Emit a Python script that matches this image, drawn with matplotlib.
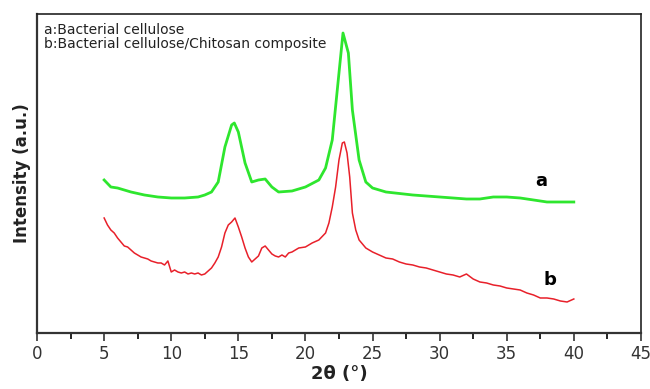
import matplotlib.pyplot as plt
import numpy as np

# curve a: bacterial cellulose (heights, a.u.)
two_theta_a = [5.0, 5.5, 6.0, 7.0, 8.0, 9.0, 10.0, 11.0, 12.0, 12.5, 13.0, 13.5,
               14.0, 14.5, 14.7, 15.0, 15.5, 16.0, 16.5, 17.0, 17.5, 18.0, 19.0,
               20.0, 21.0, 21.5, 22.0, 22.5, 22.8, 23.2, 23.5, 24.0, 24.5, 25.0,
               26.0, 28.0, 30.0, 32.0, 33.0, 34.0, 35.0, 36.0, 37.0, 38.0, 40.0]
intensity_a = [153, 146, 145, 141, 138, 136, 135, 135, 136, 138, 141, 151,
               186, 208, 210, 201, 170, 151, 153, 154, 146, 141, 142,
               146, 153, 165, 193, 260, 300, 280, 223, 173, 151, 145,
               141, 138, 136, 134, 134, 136, 136, 135, 133, 131, 131]

# curve b: bacterial cellulose / chitosan composite
two_theta_b = [5.0, 5.25, 5.5, 5.75, 6.0, 6.25, 6.5, 6.75, 7.0, 7.25, 7.5, 7.75,
               8.0, 8.25, 8.5, 8.75, 9.0, 9.25, 9.5, 9.75, 10.0, 10.25, 10.5, 10.75,
               11.0, 11.25, 11.5, 11.75, 12.0, 12.25, 12.5, 12.75, 13.0, 13.25, 13.5,
               13.75, 14.0, 14.25, 14.5, 14.75, 15.0, 15.25, 15.5, 15.75, 16.0, 16.25,
               16.5, 16.75, 17.0, 17.25, 17.5, 17.75, 18.0, 18.25, 18.5, 18.75, 19.0,
               19.5, 20.0, 20.5, 21.0, 21.5, 21.75, 22.0, 22.25, 22.5, 22.75, 22.9,
               23.1, 23.3, 23.5, 23.75, 24.0, 24.5, 25.0, 25.5, 26.0, 26.5, 27.0,
               27.5, 28.0, 28.5, 29.0, 29.5, 30.0, 30.5, 31.0, 31.5, 32.0, 32.5,
               33.0, 33.5, 34.0, 34.5, 35.0, 35.5, 36.0, 36.5, 37.0, 37.5, 38.0,
               38.5, 39.0, 39.5, 40.0]
intensity_b = [115, 108, 103, 100, 95, 91, 87, 86, 83, 80, 78, 76,
               75, 74, 72, 71, 70, 70, 68, 72, 61, 63, 61, 60,
               61, 59, 60, 59, 60, 58, 59, 62, 65, 70, 76,
               86, 100, 108, 111, 115, 106, 96, 85, 76, 71, 74,
               77, 85, 87, 83, 79, 77, 76, 78, 76, 80, 81,
               85, 86, 90, 93, 100, 110, 126, 146, 173, 190, 191,
               180, 156, 120, 103, 93, 85, 81, 78, 75, 74, 71,
               69, 68, 66, 65, 63, 61, 59, 58, 56, 59, 54,
               51, 50, 48, 47, 45, 44, 43, 40, 38, 35, 35,
               34, 32, 31, 34]

fig = plt.figure(figsize=(6.5, 3.89), dpi=100)
ax = fig.add_axes([0.057, 0.144, 0.929, 0.820])

ax.plot(two_theta_a, intensity_a, color='#2ee62e', lw=2.0)
ax.plot(two_theta_b, intensity_b, color='#e8202a', lw=1.1)

ax.set_xlim(0, 45)
ax.set_ylim(0, 319)
ax.set_xticks(np.arange(0, 46, 5))
ax.set_xticks(np.arange(2.5, 45, 5), minor=True)
ax.set_yticks([])
ax.tick_params(axis='x', which='major', direction='out', length=6, width=1.2,
               labelsize=12, colors='#333333', pad=3)
ax.tick_params(axis='x', which='minor', direction='out', length=4, width=1.2)
for s in ['left', 'bottom']:
    ax.spines[s].set_linewidth(1.6)
    ax.spines[s].set_color('#333333')
for s in ['top', 'right']:
    ax.spines[s].set_linewidth(1.2)
    ax.spines[s].set_color('#222222')

ax.set_xlabel('2θ (°)', fontsize=13, fontweight='bold', color='#222222', labelpad=1)
ax.set_ylabel('Intensity (a.u.)', fontsize=12, fontweight='bold', color='#222222', labelpad=4)

ax.text(0.011, 0.950, 'a:Bacterial cellulose', transform=ax.transAxes,
        fontsize=10, va='center', ha='left', color='#222222')
ax.text(0.011, 0.905, 'b:Bacterial cellulose/Chitosan composite', transform=ax.transAxes,
        fontsize=10, va='center', ha='left', color='#222222')
ax.text(37.6, 152, 'a', fontsize=13, fontweight='bold', ha='center', va='center')
ax.text(38.2, 53, 'b', fontsize=13, fontweight='bold', ha='center', va='center')

fig.savefig('out.png', dpi=100)
